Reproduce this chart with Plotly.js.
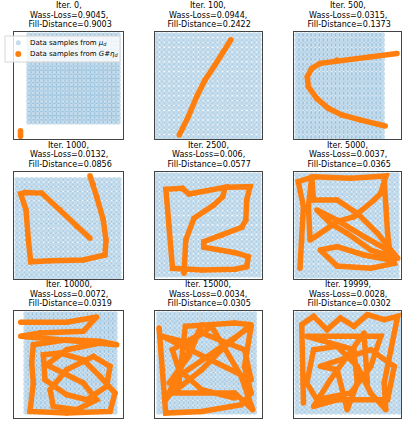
<!DOCTYPE html>
<html>
<head>
<meta charset="utf-8">
<script src="https://cdn.plot.ly/plotly-3.0.1.min.js"></script>
<style>
  html, body { margin: 0; padding: 0; background: #fff; }
  #chart { width: 406px; height: 423px; }
</style>
</head>
<body>
<div id="chart"></div>
<script>
// panel info
const iters = [0, 100, 500, 1000, 2500, 5000, 10000, 15000, 19999];
const wassLoss = ['0.9045', '0.0944', '0.0315', '0.0132', '0.006', '0.0037', '0.0072', '0.0034', '0.0028'];
const fillDist = ['0.9003', '0.2422', '0.1373', '0.0856', '0.0577', '0.0365', '0.0319', '0.0305', '0.0302'];

// data samples from mu_d (regular grid on the unit square)
const gridVals = [0, 0.048, 0.095, 0.143, 0.190, 0.238, 0.286, 0.333, 0.381, 0.429, 0.476,
                  0.524, 0.571, 0.619, 0.667, 0.714, 0.762, 0.810, 0.857, 0.905, 0.952, 1];

// generated curves G#eta_d, one per panel
const genX0 = [-0.094, -0.094];
const genY0 = [-0.10, -0.165];
const genX1 = [0.218, 0.307, 0.389, 0.471, 0.569, 0.650, 0.725];
const genY1 = [0.02, 0.199, 0.395, 0.559, 0.706, 0.836, 0.954];
const genX2 = [1.173, 0.859, 0.467, 0.271, 0.172, 0.121, 0.133, 0.231, 0.368, 0.526, 0.741, 1.035];
const genY2 = [0.82, 0.787, 0.755, 0.722, 0.673, 0.591, 0.493, 0.379, 0.281, 0.216, 0.167, 0.108];
const genX3 = [0.716, 0.748, 0.781, 0.846, 0.873, 0.863, 0.650, 0.324, 0.134, 0.111, 0.088, 0.036, 0.078, 0.242, 0.422, 0.585, 0.716];
const genY3 = [1.041, 0.948, 0.828, 0.588, 0.381, 0.227, 0.175, 0.168, 0.157, 0.381, 0.691, 0.856, 0.869, 0.863, 0.691, 0.519, 0.399];
const genX4 = [0.265, 0.282, 0.362, 0.557, 0.644, 0.670, 0.314, 0.249, 0.087, 0.120, 0.152, 0.443, 0.767, 0.880,
               0.896, 0.767, 0.459, 0.459, 0.638, 0.832, 0.871, 0.880, 0.913, 0.702];
const genY4 = [0.017, 0.35, 0.567, 0.70, 0.783, 0.877, 0.81, 0.867, 0.857, 0.483, 0.067, 0.05, 0.057, 0.083,
               0.183, 0.223, 0.277, 0.333, 0.40, 0.477, 0.55, 0.75, 0.883, 0.877];
const genX5 = [0.030, 0.047, 0.064, 0.013, 0.165, 0.535, 0.889, 0.838, 0.771, 0.569, 0.401, 0.232, 0.131, 0.114,
               0.148, 0.165, 0.401, 0.603, 0.805, 1.007, 0.737, 0.502, 0.333, 0.199, 0.401, 0.670, 0.906, 0.973,
               0.737, 0.401, 0.232, 0.401, 0.670, 0.939, 0.906, 0.889, 0.872];
const genY5 = [0.076, 0.356, 0.686, 0.934, 0.983, 0.967, 0.990, 0.818, 0.752, 0.587, 0.538, 0.422, 0.356, 0.686,
               0.983, 0.752, 0.752, 0.620, 0.422, 0.175, 0.257, 0.422, 0.521, 0.653, 0.554, 0.389, 0.257, 0.125,
               0.076, 0.099, 0.257, 0.290, 0.208, 0.158, 0.422, 0.686, 0.950];
const genX6 = [-0.060, 0.457, 0.794, 0.644, 0.157, -0.060, 1.019, 0.831, 0.457, 0.082, 0.064, 0.082, 0.045, 0.457,
               0.944, 1.000, 0.831, 0.644, 0.382, 0.195, 0.213, 0.457, 0.682, 0.906, 0.944, 0.757, 0.457, 0.270,
               0.307, 0.569, 0.794, 0.644, 0.419, 0.232, 0.457, 0.831];
const genY6 = [0.915, 0.915, 0.969, 0.823, 0.806, 0.772, 0.687, 0.721, 0.738, 0.687, 0.500, 0.296, 0.007, -0.010,
               0.007, 0.194, 0.364, 0.534, 0.602, 0.585, 0.330, 0.177, 0.126, 0.262, 0.466, 0.568, 0.432, 0.228,
               0.058, 0.024, 0.126, 0.296, 0.398, 0.483, 0.636, 0.704];
const genX7 = [0.003, 0.072, 0.450, 0.863, 0.966, 0.897, 0.966, 0.107, 0.313, 0.450, 0.072, 0.210, 0.278, 0.794,
               0.966, 0.656, 0.450, 0.141, 0.794, 0.983, 0.863, 0.553, 0.313, 0.038, 0.966, 0.897, 0.450, 0.141,
               0.210, 0.450, 0.794];
const genY7 = [0.857, -0.010, 0.007, 0.075, 0.194, 0.466, 0.874, 0.296, 0.568, 0.891, 0.126, 0.296, 0.874, 0.908,
               0.891, 0.636, 0.432, 0.194, 0.194, 0.024, 0.364, 0.874, 0.704, 0.772, 0.330, 0.636, 0.806, 0.636,
               0.432, 0.228, 0.143];
const genX8 = [0.063, 0.046, 0.162, 0.294, 0.426, 0.558, 0.690, 0.855, 0.987, 0.921, 0.855, 0.871, 0.723, 0.591,
               0.393, 0.162, 0.096, 0.195, 0.525, 0.723, 0.822, 0.393, 0.096, 0.558, 0.591, 0.492, 0.393, 0.228,
               0.723, 0.954, 0.888, 0.393, 0.162, 0.327, 0.657, 0.690];
const genY8 = [0.092, 0.891, 0.976, 0.840, 0.959, 0.874, 0.993, 0.942, 0.976, 0.636, 0.296, 0.024, 0.194, 0.466,
               0.670, 0.636, 0.296, 0.126, 0.194, 0.466, 0.772, 0.772, 0.772, 0.636, 0.296, 0.024, 0.432, 0.466,
               0.636, 0.466, 0.126, 0.126, 0.058, 0.330, 0.806, 0.296];

const genX = [genX0, genX1, genX2, genX3, genX4, genX5, genX6, genX7, genX8];
const genY = [genY0, genY1, genY2, genY3, genY4, genY5, genY6, genY7, genY8];

// grid points
const muX = [], muY = [];
gridVals.forEach(gy => gridVals.forEach(gx => { muX.push(gx); muY.push(gy); }));

const W = 406, H = 423;
const BLUE = '#1f77b4', ORANGE = '#ff7f0e';

// panel boxes in pixels
const colPx = [[14, 123], [155, 262], [294, 401]];
const rowPx = [[32, 139], [172, 279], [311, 418]];
const xRanges = [[-0.167, 1.056], [-0.02, 1.03], [-0.035, 1.22], [-0.03, 1.04], [-0.02, 1.03],
                 [-0.03, 1.04], [-0.135, 1.09], [-0.04, 1.08], [-0.03, 1.02]];
const yRanges = [[-0.195, 1.034], [-0.02, 1.03], [-0.02, 1.03], [-0.02, 1.08], [-0.04, 1.03],
                 [-0.03, 1.03], [-0.06, 1.03], [-0.06, 1.03], [-0.06, 1.03]];

const traces = [];
const layout = {
  width: W, height: H,
  margin: { l: 0, r: 0, t: 0, b: 0 },
  paper_bgcolor: '#fff', plot_bgcolor: '#fff',
  showlegend: false,
  font: { family: 'DejaVu Sans, sans-serif', size: 8, color: '#000' },
  annotations: [],
  shapes: []
};

for (let i = 0; i < 9; i++) {
  const r = Math.floor(i / 3), c = i % 3;
  const sfx = i === 0 ? '' : String(i + 1);
  const xa = 'x' + sfx, ya = 'y' + sfx;
  const axCommon = {
    showticklabels: false, ticks: '', showgrid: false, zeroline: false,
    showline: true, mirror: true, linecolor: '#444', linewidth: 1, fixedrange: true
  };
  layout['xaxis' + sfx] = Object.assign({}, axCommon, {
    domain: [colPx[c][0] / W, colPx[c][1] / W], range: xRanges[i], anchor: ya
  });
  layout['yaxis' + sfx] = Object.assign({}, axCommon, {
    domain: [1 - rowPx[r][1] / H, 1 - rowPx[r][0] / H], range: yRanges[i], anchor: xa
  });

  traces.push({
    x: muX, y: muY, xaxis: xa, yaxis: ya,
    type: 'scatter', mode: 'markers', hoverinfo: 'skip',
    marker: { color: BLUE, size: 5.5, opacity: 0.26, line: { width: 0 } }
  });
  traces.push({
    x: genX[i], y: genY[i], xaxis: xa, yaxis: ya,
    type: 'scatter', mode: 'lines+markers', hoverinfo: 'skip',
    line: { color: ORANGE, width: 5.5 },
    marker: { color: ORANGE, size: 5.5 }
  });

  // three-line title
  const xc = (colPx[c][0] + colPx[c][1]) / 2 / W;
  const yTop = 1 - rowPx[r][0] / H;
  const lines = ['Iter. ' + iters[i] + ',', 'Wass-Loss=' + wassLoss[i] + ',', ' Fill-Distance=' + fillDist[i]];
  const shifts = [26.5, 17, 7.5];
  lines.forEach((t, k) => {
    layout.annotations.push({
      text: t, xref: 'paper', yref: 'paper', x: xc, y: yTop, yshift: shifts[k],
      xanchor: 'center', yanchor: 'middle', showarrow: false,
      font: { family: 'DejaVu Sans, sans-serif', size: 8, color: '#000' }
    });
  });
}

// legend drawn in the first panel
const px = v => v / W, py = v => 1 - v / H;
layout.shapes.push({
  type: 'rect', xref: 'paper', yref: 'paper', layer: 'above',
  x0: px(5), x1: px(120), y0: py(36), y1: py(62),
  fillcolor: 'rgba(255,255,255,0.8)', line: { color: '#d6d6d6', width: 1 }
});
layout.shapes.push({
  type: 'circle', xref: 'paper', yref: 'paper', layer: 'above',
  x0: px(15.8), x1: px(20.8), y0: py(40.2), y1: py(45.2),
  fillcolor: 'rgba(31,119,180,0.25)', line: { width: 0 }
});
layout.shapes.push({
  type: 'circle', xref: 'paper', yref: 'paper', layer: 'above',
  x0: px(15.3), x1: px(21.3), y0: py(51), y1: py(57),
  fillcolor: ORANGE, line: { width: 0 }
});
const legendLabels = ['Data samples from <i>μ<sub>d</sub></i>', 'Data samples from <i>G#η<sub>d</sub></i>'];
[43, 54].forEach((yy, k) => {
  layout.annotations.push({
    text: legendLabels[k], xref: 'paper', yref: 'paper', x: px(28), y: py(yy),
    xanchor: 'left', yanchor: 'middle', showarrow: false,
    font: { family: 'DejaVu Sans, sans-serif', size: 7, color: '#000' }
  });
});

Plotly.newPlot('chart', traces, layout, { staticPlot: true, displayModeBar: false });
</script>
</body>
</html>
